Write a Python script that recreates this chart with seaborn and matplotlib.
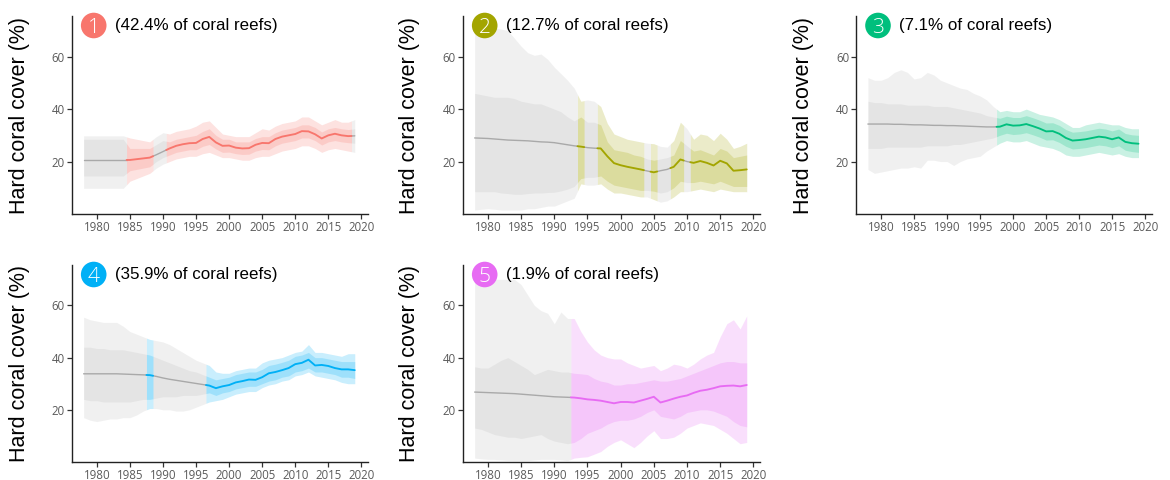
import numpy as np
import matplotlib
matplotlib.use("Agg")
import matplotlib.pyplot as plt
import seaborn as sns
from matplotlib.patches import Circle

# ---------------- data ----------------
years = list(range(1978, 2020))

region_numbers = ["1", "2", "3", "4", "5"]
region_shares = ["(42.4% of coral reefs)", "(12.7% of coral reefs)", "(7.1% of coral reefs)",
                 "(35.9% of coral reefs)", "(1.9% of coral reefs)"]
region_colors = ["#F8766D", "#A3A500", "#00BF7D", "#00B0F6", "#E76BF3"]

# years with observations (coloured); other years are model-only (grey)
r1_obs = [1985, 1986, 1987, 1988] + list(range(1991, 2019))
r2_obs = [1994] + list(range(1997, 2004)) + [2005, 2008, 2009] + list(range(2011, 2020))
r3_obs = list(range(1998, 2020))
r4_obs = [1988] + list(range(1997, 2020))
r5_obs = list(range(1993, 2020))

r1_mean = [20.6, 20.6, 20.6, 20.6, 20.6, 20.6, 20.6, 20.6, 20.9, 21.2, 21.5, 22.6, 23.8, 25.0,
           26.0, 26.6, 27.0, 27.1, 28.6, 29.4, 27.3, 26.0, 26.1, 25.3, 25.0, 25.1, 26.4, 27.1,
           27.0, 28.6, 29.5, 30.0, 30.5, 31.6, 31.5, 30.4, 28.8, 30.0, 30.6, 30.0, 29.7, 29.8]
r1_hi95 = [29.8, 29.8, 29.8, 29.8, 29.8, 29.8, 29.8, 29.0, 28.5, 28.0, 27.5, 29.5, 31.0, 30.5,
           31.5, 32.0, 32.5, 33.5, 35.0, 35.5, 33.0, 30.5, 30.0, 29.5, 29.5, 29.5, 31.0, 32.5,
           32.0, 33.5, 34.5, 35.0, 35.5, 37.0, 37.0, 35.5, 34.0, 35.0, 36.0, 35.0, 35.0, 36.0]
r1_hi80 = [28.5, 28.5, 28.5, 28.5, 28.5, 28.5, 28.5, 25.0, 25.0, 25.0, 25.0, 26.5, 28.0, 27.5,
           28.5, 29.0, 29.5, 30.0, 31.5, 32.5, 30.0, 28.5, 28.5, 27.5, 27.5, 27.5, 28.8, 29.5,
           29.5, 31.0, 32.0, 32.5, 33.0, 34.0, 34.0, 33.0, 31.3, 32.5, 33.0, 32.5, 32.2, 32.5]
r1_lo80 = [14.5, 14.5, 14.5, 14.5, 14.5, 14.5, 14.5, 16.5, 17.0, 17.5, 18.0, 20.0, 21.5, 22.5,
           23.5, 24.0, 24.5, 24.5, 25.8, 26.5, 24.8, 23.5, 23.6, 23.0, 22.7, 22.8, 24.0, 24.6,
           24.5, 26.0, 27.0, 27.5, 28.0, 29.0, 29.0, 28.0, 26.3, 27.5, 28.0, 27.5, 27.2, 27.0]
r1_lo95 = [9.8, 9.8, 9.8, 9.8, 9.8, 9.8, 9.8, 12.5, 13.5, 14.5, 15.5, 17.5, 19.0, 20.0,
           21.0, 21.5, 22.0, 22.0, 23.0, 23.5, 22.5, 21.5, 21.5, 21.0, 20.5, 20.5, 21.5, 22.0,
           22.0, 23.0, 24.0, 24.5, 25.0, 26.0, 26.0, 25.0, 23.5, 24.5, 25.0, 24.5, 24.0, 23.5]

r2_mean = [29.0, 28.9, 28.8, 28.6, 28.4, 28.2, 28.1, 28.0, 27.9, 27.7, 27.5, 27.4, 27.2, 26.8,
           26.4, 26.0, 25.7, 25.3, 25.1, 25.0, 22.0, 19.4, 18.6, 18.0, 17.5, 17.0, 16.4, 15.9,
           16.5, 17.0, 18.0, 20.8, 20.0, 19.5, 20.2, 19.5, 18.5, 20.3, 19.3, 16.5, 16.7, 17.0]
r2_hi95 = [69.0, 70.0, 71.0, 71.0, 70.5, 70.0, 67.0, 64.0, 61.5, 60.5, 61.0, 59.0, 56.0, 53.5,
           51.0, 48.0, 43.0, 43.5, 43.0, 41.0, 34.5, 30.5, 29.5, 28.5, 28.0, 27.5, 27.0, 26.8,
           25.8, 25.5, 28.0, 35.0, 32.5, 28.5, 30.5, 30.0, 28.0, 30.8, 28.5, 25.0, 25.8, 27.0]
r2_hi80 = [46.0, 45.5, 45.0, 44.5, 44.5, 44.5, 44.0, 43.0, 42.5, 42.0, 42.0, 41.0, 40.0, 39.0,
           37.0, 35.5, 37.0, 35.0, 35.0, 34.0, 27.5, 24.5, 24.0, 23.5, 22.5, 22.0, 21.0, 20.5,
           21.0, 21.5, 22.5, 28.0, 26.0, 24.0, 24.5, 23.5, 22.5, 25.0, 24.0, 21.5, 22.0, 22.5]
r2_lo80 = [8.5, 8.5, 8.5, 8.5, 8.0, 7.8, 7.5, 7.5, 7.8, 8.0, 8.0, 8.2, 8.3, 8.8,
           9.5, 10.5, 13.5, 14.0, 14.0, 14.5, 12.5, 11.0, 10.5, 10.0, 9.5, 9.0, 9.0, 8.7,
           8.0, 8.5, 10.0, 12.5, 12.0, 12.0, 12.5, 12.0, 11.5, 12.5, 11.5, 10.5, 10.5, 10.5]
r2_lo95 = [1.5, 1.8, 2.0, 1.8, 1.5, 1.5, 1.5, 1.5, 2.0, 2.0, 2.5, 3.0, 3.0, 4.0,
           5.0, 6.0, 11.5, 11.0, 11.0, 11.5, 9.5, 8.0, 8.0, 7.5, 7.0, 6.5, 6.5, 5.5,
           4.5, 5.0, 6.5, 8.5, 8.5, 9.0, 9.5, 9.0, 8.5, 9.5, 9.0, 8.5, 8.5, 8.5]

r3_mean = [34.3, 34.3, 34.3, 34.3, 34.2, 34.2, 34.1, 34.0, 34.0, 33.9, 33.8, 33.8, 33.7, 33.7,
           33.6, 33.5, 33.4, 33.3, 33.2, 33.2, 33.3, 34.2, 33.7, 33.8, 34.3, 33.5, 32.6, 31.5,
           31.6, 30.6, 29.0, 28.0, 28.2, 28.5, 29.0, 29.5, 29.2, 28.5, 29.2, 27.5, 27.0, 26.8]
r3_hi95 = [52.0, 51.0, 51.0, 52.0, 54.0, 55.0, 54.0, 51.5, 52.0, 54.0, 53.0, 51.0, 50.0, 49.0,
           48.0, 47.5, 46.0, 45.0, 43.5, 41.0, 39.0, 39.5, 39.0, 39.0, 40.0, 39.0, 38.0, 37.5,
           37.0, 36.0, 34.5, 33.0, 33.0, 34.0, 34.5, 35.0, 34.5, 34.0, 34.0, 33.0, 32.5, 32.5]
r3_hi80 = [43.0, 42.5, 42.5, 42.0, 42.0, 42.0, 41.5, 41.5, 41.5, 41.5, 41.0, 41.0, 41.0, 40.5,
           40.0, 39.5, 39.0, 38.5, 37.5, 37.0, 36.5, 37.3, 36.8, 36.8, 37.5, 36.7, 35.8, 34.7,
           34.8, 33.8, 32.2, 31.2, 31.4, 31.7, 32.2, 32.7, 32.4, 31.7, 32.4, 30.7, 30.2, 30.0]
r3_lo80 = [25.0, 25.0, 25.0, 25.5, 25.5, 25.5, 25.5, 25.5, 25.5, 26.0, 26.0, 26.0, 26.0, 26.5,
           26.5, 27.0, 27.5, 28.0, 28.5, 29.0, 30.0, 30.8, 30.3, 30.5, 31.0, 30.2, 29.3, 28.2,
           28.3, 27.3, 25.8, 24.8, 25.0, 25.3, 25.8, 26.3, 26.0, 25.3, 26.0, 24.3, 23.8, 23.5]
r3_lo95 = [17.0, 15.5, 16.0, 16.5, 17.0, 17.5, 17.5, 18.0, 17.5, 20.5, 20.5, 20.0, 20.0, 18.5,
           20.0, 21.0, 21.5, 22.0, 24.0, 25.5, 27.0, 28.0, 27.5, 27.5, 28.0, 27.0, 26.0, 25.5,
           25.0, 24.0, 22.5, 22.0, 22.0, 22.5, 23.0, 23.5, 23.0, 22.5, 23.0, 22.0, 21.5, 21.5]

r4_mean = [33.8, 33.8, 33.8, 33.8, 33.8, 33.8, 33.7, 33.6, 33.5, 33.4, 33.3, 32.8, 32.2, 31.7,
           31.3, 30.9, 30.5, 30.1, 29.7, 29.3, 28.3, 29.0, 29.5, 30.5, 31.0, 31.6, 31.5, 32.5,
           34.0, 34.5, 35.2, 36.0, 37.5, 38.0, 39.2, 37.0, 37.2, 36.8, 36.0, 35.5, 35.5, 35.2]
r4_hi95 = [55.5, 54.5, 54.0, 53.5, 53.5, 53.5, 52.0, 50.0, 49.0, 48.0, 47.0, 46.5, 46.0, 45.0,
           43.5, 42.0, 40.5, 39.0, 38.0, 37.0, 34.5, 34.0, 34.0, 35.0, 35.5, 36.0, 36.0, 38.0,
           39.0, 39.5, 40.0, 41.0, 42.0, 42.5, 45.0, 42.0, 42.0, 41.5, 41.0, 40.5, 41.5, 41.5]
r4_hi80 = [44.0, 44.0, 43.5, 43.5, 43.0, 43.0, 43.0, 42.5, 42.0, 41.5, 41.0, 40.0, 39.0, 38.0,
           37.0, 36.0, 35.0, 34.5, 33.5, 32.5, 31.5, 32.0, 32.5, 33.5, 34.0, 34.5, 34.5, 35.5,
           37.0, 37.5, 38.2, 39.0, 40.5, 41.0, 42.0, 40.0, 40.0, 39.5, 39.0, 38.5, 38.5, 38.5]
r4_lo80 = [24.0, 23.5, 23.5, 23.0, 23.0, 23.0, 23.0, 23.0, 23.5, 24.0, 24.0, 24.5, 25.0, 25.0,
           25.0, 25.5, 25.5, 25.5, 26.0, 26.5, 25.5, 26.5, 27.0, 28.0, 28.5, 29.0, 29.0, 30.0,
           31.0, 31.5, 32.5, 33.0, 34.5, 35.0, 36.0, 34.5, 34.5, 34.0, 33.5, 32.5, 32.5, 32.0]
r4_lo95 = [17.0, 16.0, 15.5, 16.0, 16.5, 16.5, 17.0, 17.0, 18.0, 19.5, 20.5, 20.5, 20.0, 20.0,
           19.5, 19.5, 20.0, 21.0, 22.0, 23.0, 23.5, 24.0, 25.0, 26.0, 26.5, 27.0, 27.0, 28.5,
           29.5, 30.0, 31.0, 31.5, 33.0, 33.5, 34.5, 33.0, 32.5, 32.0, 31.5, 30.5, 30.0, 30.0]

r5_mean = [26.8, 26.7, 26.6, 26.5, 26.4, 26.3, 26.2, 26.0, 25.8, 25.6, 25.4, 25.2, 25.0, 24.9,
           24.8, 24.7, 24.4, 24.0, 23.8, 23.5, 23.0, 22.5, 23.0, 23.0, 22.8, 23.5, 24.2, 25.0,
           22.8, 23.5, 24.3, 25.0, 25.5, 26.5, 27.3, 27.7, 28.3, 29.0, 29.2, 29.3, 29.0, 29.5]
r5_hi95 = [70.0, 70.0, 70.0, 70.0, 70.0, 70.0, 70.0, 68.0, 64.0, 60.0, 58.0, 57.0, 53.0, 57.5,
           55.0, 55.0, 50.0, 46.0, 43.0, 41.0, 40.0, 39.5, 39.5, 38.0, 37.0, 36.0, 36.5, 37.0,
           35.0, 36.0, 37.5, 37.0, 36.0, 37.5, 39.5, 41.0, 42.0, 48.0, 53.0, 54.5, 51.0, 56.0]
r5_hi80 = [36.5, 36.0, 36.0, 37.5, 39.0, 40.0, 38.5, 37.0, 35.5, 33.5, 34.5, 35.5, 35.0, 34.5,
           34.5, 34.0, 33.8, 33.5, 32.0, 31.0, 30.5, 29.5, 29.5, 30.0, 30.0, 30.5, 31.0, 31.5,
           31.0, 31.0, 31.5, 32.0, 33.0, 34.0, 35.0, 36.0, 37.0, 38.0, 38.5, 38.5, 38.0, 38.0]
r5_lo80 = [13.0, 12.5, 11.5, 10.5, 10.0, 9.5, 9.5, 9.0, 9.5, 10.0, 10.5, 9.0, 8.0, 7.5,
           7.0, 7.5, 9.0, 11.0, 12.0, 13.0, 14.5, 15.5, 16.0, 16.0, 16.5, 17.5, 19.0, 20.0,
           17.5, 17.0, 16.5, 17.5, 19.0, 19.5, 20.0, 20.0, 19.5, 18.5, 17.5, 15.5, 14.0, 13.5]
r5_lo95 = [1.5, 1.2, 1.0, 1.0, 0.8, 0.6, 0.5, 0.5, 0.5, 0.8, 1.0, 1.0, 1.0, 0.8,
           0.5, 1.5, 1.8, 2.0, 3.0, 4.0, 6.0, 7.5, 8.5, 7.0, 5.5, 7.5, 10.0, 12.0,
           9.0, 9.0, 9.5, 11.0, 13.0, 14.0, 15.0, 14.5, 14.0, 12.5, 11.0, 9.0, 7.0, 7.5]

y_ticks = [20, 40, 60]
x_ticks = [1980, 1985, 1990, 1995, 2000, 2005, 2010, 2015, 2020]
y_label = "Hard coral cover (%)"

# ---------------- style ----------------
sns.set_theme(style="ticks")
plt.rcParams["font.family"] = ["Liberation Sans", "DejaVu Sans"]

W, H = 1170, 480
fig = plt.figure(figsize=(W / 100, H / 100), dpi=100)

# axes boxes in pixels: (left, top, right, bottom)
boxes = [(71.7, 16, 368, 214), (462.7, 16, 760, 214), (856, 16, 1151.7, 214),
         (71.7, 265, 368, 462), (462.7, 265, 760, 462)]

GREY = "#B3B3B3"
GREY_LINE = "#A9A9A9"
ALPHA_GREY = 0.19
ALPHA_COL = 0.21

panels = [
    (r1_obs, r1_mean, r1_lo95, r1_hi95, r1_lo80, r1_hi80),
    (r2_obs, r2_mean, r2_lo95, r2_hi95, r2_lo80, r2_hi80),
    (r3_obs, r3_mean, r3_lo95, r3_hi95, r3_lo80, r3_hi80),
    (r4_obs, r4_mean, r4_lo95, r4_hi95, r4_lo80, r4_hi80),
    (r5_obs, r5_mean, r5_lo95, r5_hi95, r5_lo80, r5_hi80),
]


def runs(flags):
    out, start = [], 0
    for i in range(1, len(flags) + 1):
        if i == len(flags) or flags[i] != flags[start]:
            out.append((start, i - 1, flags[start]))
            start = i
    return out


yrs = np.array(years, dtype=float)


def seg(a, b, arr):
    x0 = max(yrs[a] - 0.5, yrs[0])
    x1 = min(yrs[b] + 0.5, yrs[-1])
    inner = [y for y in yrs if x0 < y < x1]
    xs = np.array([x0] + inner + [x1])
    return xs, np.interp(xs, yrs, np.array(arr, dtype=float))


tick_font = ["Open Sans", "DejaVu Sans"]

for k, (obs, mean, lo95, hi95, lo80, hi80) in enumerate(panels):
    L, T, R, B = boxes[k]
    ax = fig.add_axes([L / W, 1 - B / H, (R - L) / W, (B - T) / H])
    col = region_colors[k]
    flags = [y in obs for y in years]
    for a, b, is_obs in runs(flags):
        c = col if is_obs else GREY
        al = ALPHA_COL if is_obs else ALPHA_GREY
        xs, l95 = seg(a, b, lo95)
        _, h95 = seg(a, b, hi95)
        _, l80 = seg(a, b, lo80)
        _, h80 = seg(a, b, hi80)
        ax.fill_between(xs, l95, h95, color=c, alpha=al, lw=0)
        ax.fill_between(xs, l80, h80, color=c, alpha=al, lw=0)
    for a, b, is_obs in runs(flags):
        xs, m = seg(a, b, mean)
        sns.lineplot(x=xs, y=m, ax=ax, color=(col if is_obs else GREY_LINE),
                     linewidth=(1.35 if is_obs else 1.0), estimator=None, sort=False,
                     zorder=(4 if is_obs else 3))

    ax.set_xlim(1976.2, 2021.0)
    ax.set_ylim(0, 75.5)
    ax.set_xticks(x_ticks)
    ax.set_yticks(y_ticks)
    ax.set_xticklabels([str(t) for t in x_ticks], fontsize=8.3, color="#5a5a5a", family=tick_font)
    ax.set_yticklabels([str(t) for t in y_ticks], fontsize=8.3, color="#5a5a5a", family=tick_font)
    ax.tick_params(length=3.5, width=0.9, color="#333333", pad=1.5)
    sns.despine(ax=ax)
    for s in ("left", "bottom"):
        ax.spines[s].set_linewidth(1.0)
        ax.spines[s].set_color("#222222")
    ax.set_xlabel("")
    ax.set_ylabel(y_label, fontsize=15.5, color="black")
    ax.yaxis.set_label_coords(-0.142, 0.5)

    # title: coloured circle with number + share text
    cx, cy = L + 22, T + 9.5
    fig.add_artist(Circle((cx / 100, (H - cy) / 100), 0.128, transform=fig.dpi_scale_trans,
                          facecolor=col, edgecolor="none", zorder=10))
    fig.text(cx / W, 1 - (cy + 7.2) / H, region_numbers[k], ha="center", va="baseline",
             color="white", fontsize=15, family=tick_font, fontweight="light", zorder=11)
    fig.text((L + 43) / W, 1 - cy / H, region_shares[k], ha="left", va="center",
             color="black", fontsize=12.2, zorder=11)

fig.savefig("out.png", dpi=100)
